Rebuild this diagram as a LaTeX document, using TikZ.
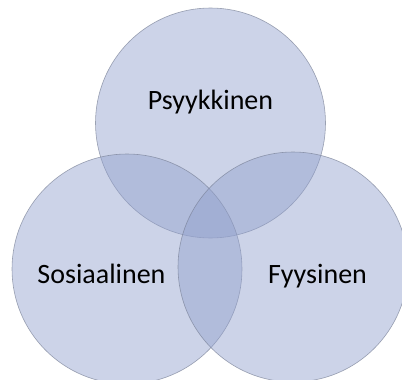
\documentclass[tikz,border=0pt]{standalone}
\usepackage{fontspec}
\setmainfont{Carlito}
\definecolor{vennfill}{RGB}{146,161,205}
\definecolor{vennline}{RGB}{120,128,150}
\tikzset{
  venn/.style={fill=vennfill, fill opacity=0.46, draw=vennline, draw opacity=0.7, line width=0.6pt},
  lbl/.style={anchor=base, font=\fontsize{28}{30}\selectfont, text=black, inner sep=0pt}
}
\begin{document}
\begin{tikzpicture}[x=1pt,y=-1pt]
\useasboundingbox (0,0) rectangle (402,380);
\fill[white] (0,0) rectangle (402,380);
\draw[venn] (210.5,123) circle[radius=115];
\draw[venn] (127,269) circle[radius=115];
\draw[venn] (293,267) circle[radius=115];
\node[lbl] (psy) at (210.5,109) {Psyykkinen};
\node[lbl] (sos) at (101.5,283) {Sosiaalinen};
\node[lbl] (fyy) at (317.5,283) {Fyysinen};
\end{tikzpicture}
\end{document}
